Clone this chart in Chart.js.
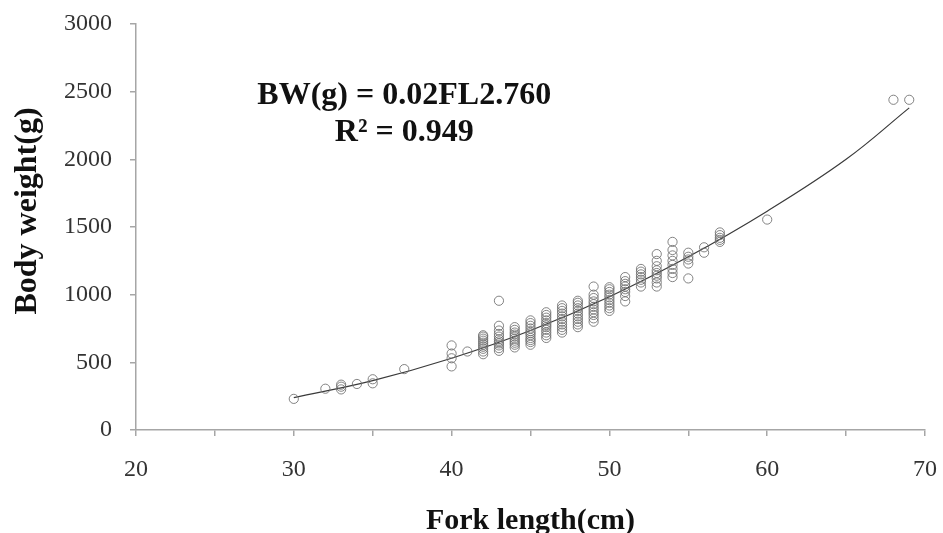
<!DOCTYPE html>
<html>
<head>
<meta charset="utf-8">
<script src="https://cdn.jsdelivr.net/npm/chart.js@4"></script>
<style>
html,body{margin:0;padding:0;background:#fff;overflow:hidden;width:943px;height:533px;}
canvas{display:block;}
</style>
</head>
<body>
<canvas id="c" width="943" height="545"></canvas>
<script>
// Fork length (cm) of each observed fish and its body weight (g)
const fl30 = [30], bw30 = [230];
const fl32 = [32], bw32 = [305];
const fl33 = [33, 33, 33], bw33 = [300, 320, 335];
const fl34 = [34], bw34 = [340];
const fl35 = [35, 35], bw35 = [345, 375];
const fl37 = [37], bw37 = [450];
const fl40 = [40, 40, 40, 40], bw40 = [470, 530, 565, 625];
const fl41 = [41], bw41 = [580];
const bw42 = [560, 580, 600, 615, 630, 645, 660, 675, 690, 700];
const bw43 = [585, 605, 625, 640, 655, 670, 690, 710, 735, 770, 955];
const bw44 = [610, 630, 645, 660, 675, 690, 705, 720, 740, 760];
const bw45 = [630, 650, 665, 680, 700, 715, 730, 750, 770, 790, 810];
const bw46 = [680, 700, 720, 740, 760, 775, 790, 810, 830, 850, 870];
const bw47 = [720, 740, 760, 780, 800, 820, 840, 860, 880, 900, 920];
const bw48 = [760, 780, 800, 820, 840, 860, 880, 900, 920, 940, 955];
const bw49 = [800, 825, 850, 870, 890, 910, 930, 950, 975, 1000, 1060];
const bw50 = [880, 900, 920, 940, 960, 980, 1000, 1020, 1040, 1055];
const bw51 = [950, 990, 1020, 1040, 1060, 1080, 1100, 1130];
const bw52 = [1060, 1090, 1110, 1130, 1150, 1170, 1190];
const bw53 = [1060, 1090, 1120, 1140, 1160, 1180, 1210, 1250, 1300];
const bw54 = [1130, 1160, 1190, 1220, 1250, 1290, 1330, 1390];
const bw55 = [1120, 1230, 1260, 1280, 1310];
const bw56 = [1310, 1350];
const bw57 = [1390, 1405, 1420, 1440, 1460];
const fl60 = [60], bw60 = [1555];
const fl68 = [68, 69], bw68 = [2440, 2440];

// Trend line values
const trendFL = [30, 35, 40, 45, 50, 55, 60, 65, 69];
const trendBW = [239, 365, 530, 735, 985, 1280, 1617, 2000, 2380];

// Axis ticks
const xTicks = [20, 25, 30, 35, 40, 45, 50, 55, 60, 65, 70];
const yTicks = [0, 500, 1000, 1500, 2000, 2500, 3000];

// Annotation
const eqLines = ['BW(g) = 0.02FL2.760', 'R\u00B2 = 0.949'];
const eqAnchorFL = 37;
const eqAnchorBW = [2468, 2195];

const columns = [
  [42, bw42],[43, bw43],[44, bw44],[45, bw45],[46, bw46],[47, bw47],[48, bw48],
  [49, bw49],[50, bw50],[51, bw51],[52, bw52],[53, bw53],[54, bw54],[55, bw55],
  [56, bw56],[57, bw57]
];
const pairs = [[fl30,bw30],[fl32,bw32],[fl33,bw33],[fl34,bw34],[fl35,bw35],[fl37,bw37],
  [fl40,bw40],[fl41,bw41],[fl60,bw60],[fl68,bw68]];
const pts = [];
pairs.forEach(([xs, ys]) => xs.forEach((x, i) => pts.push({x: x, y: ys[i]})));
columns.forEach(([x, ys]) => ys.forEach(y => pts.push({x: x, y: y})));
const trend = trendFL.map((x, i) => ({x: x, y: trendBW[i]}));

const FONT = '"Liberation Serif", "Times New Roman", serif';

const eqPlugin = {
  id: 'eq',
  afterDraw(chart) {
    const ctx = chart.ctx;
    const xs = chart.scales.x, ys = chart.scales.y;
    ctx.save();
    ctx.fillStyle = '#111';
    ctx.font = 'bold 32px ' + FONT;
    ctx.textAlign = 'center';
    ctx.textBaseline = 'middle';
    eqLines.forEach((t, i) => {
      ctx.fillText(t, xs.getPixelForValue(eqAnchorFL), ys.getPixelForValue(eqAnchorBW[i]));
    });
    ctx.restore();
  }
};

new Chart(document.getElementById('c'), {
  type: 'scatter',
  data: {
    datasets: [
      {
        data: pts,
        pointStyle: 'circle',
        pointRadius: 4.6,
        pointBorderWidth: 1,
        pointBorderColor: 'rgba(110,110,110,0.85)',
        pointBackgroundColor: 'rgba(0,0,0,0)',
        showLine: false
      },
      {
        type: 'line',
        data: trend,
        borderColor: '#3a3a3a',
        borderWidth: 1.2,
        pointRadius: 0,
        fill: false,
        tension: 0.4
      }
    ]
  },
  options: {
    responsive: false,
    animation: false,
    layout: { padding: { top: 24, right: 18, left: 0, bottom: 0 } },
    plugins: { legend: { display: false }, tooltip: { enabled: false } },
    scales: {
      x: {
        type: 'linear',
        min: 20, max: 70,
        afterBuildTicks(scale) { scale.ticks = xTicks.map(v => ({value: v})); },
        afterFit(scale) { scale.height = 115; scale.paddingLeft = 12; scale.paddingRight = 12; },
        border: { color: '#a6a6a6', width: 1.5 },
        grid: { drawOnChartArea: false, color: '#a6a6a6', tickLength: 6, lineWidth: 1.5 },
        ticks: {
          autoSkip: false, maxRotation: 0, padding: 19,
          color: '#333',
          font: { family: FONT, size: 24 },
          callback: v => (v % 10 === 0 ? String(v) : '')
        },
        title: {
          display: true, text: 'Fork length(cm)', color: '#111',
          font: { family: FONT, size: 30, weight: 'bold' },
          padding: { top: 0, bottom: 6 }
        }
      },
      y: {
        min: 0, max: 3000,
        afterBuildTicks(scale) { scale.ticks = yTicks.map(v => ({value: v})); },
        afterFit(scale) { scale.width = 136; scale.paddingTop = 12; scale.paddingBottom = 12; },
        border: { color: '#a6a6a6', width: 1.5 },
        grid: { drawOnChartArea: false, color: '#a6a6a6', tickLength: 6, lineWidth: 1.5 },
        ticks: {
          padding: 18, color: '#333',
          font: { family: FONT, size: 24 },
          callback: v => String(v)
        },
        title: {
          display: true, text: '\u00A0\u00A0\u00A0\u00A0Body weight(g)', color: '#111',
          font: { family: FONT, size: 32, weight: 'bold' },
          padding: { top: 9, bottom: 0 }
        }
      }
    }
  },
  plugins: [eqPlugin]
});
</script>
</body>
</html>
